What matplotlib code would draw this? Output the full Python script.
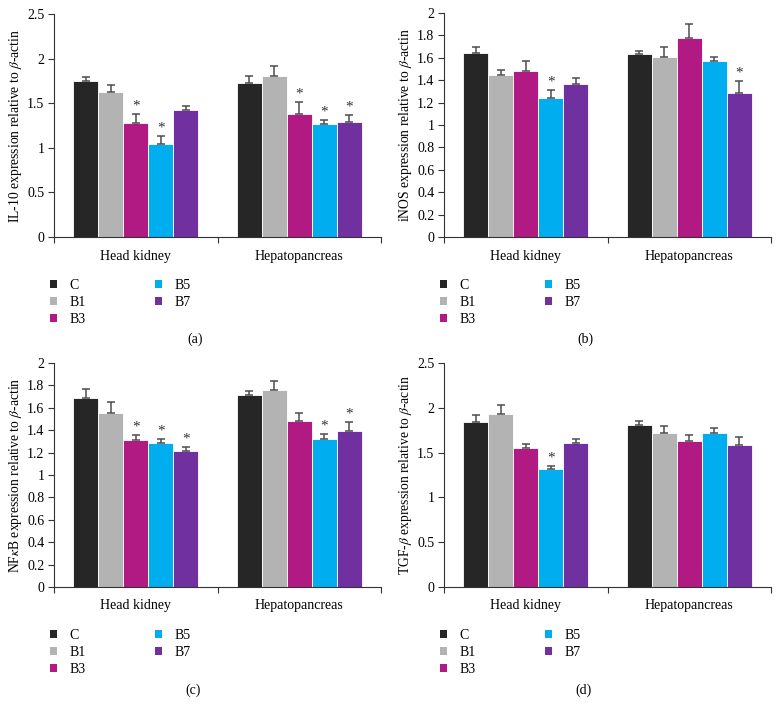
import matplotlib
matplotlib.use("Agg")
import matplotlib.pyplot as plt
from matplotlib.patches import Patch
from matplotlib.ticker import FuncFormatter
import numpy as np

plt.rcParams['font.family'] = ['Liberation Serif', 'DejaVu Serif']
plt.rcParams['mathtext.fontset'] = 'stix'

tissues = ["Head kidney", "Hepatopancreas"]
groups = ["C", "B1", "B3", "B5", "B7"]
colors = ["#262626", "#b3b3b3", "#b01a82", "#00aeef", "#7030a0"]

# IL-10
il10_hk = [1.75, 1.63, 1.28, 1.04, 1.42]
il10_hk_err = [0.04, 0.07, 0.10, 0.09, 0.05]
il10_hp = [1.73, 1.81, 1.38, 1.27, 1.29]
il10_hp_err = [0.07, 0.11, 0.13, 0.04, 0.08]
il10_sig_hk = [False, False, True, True, False]
il10_sig_hp = [False, False, True, True, True]

# iNOS
inos_hk = [1.64, 1.45, 1.48, 1.24, 1.37]
inos_hk_err = [0.06, 0.04, 0.09, 0.07, 0.05]
inos_hp = [1.63, 1.61, 1.78, 1.57, 1.29]
inos_hp_err = [0.03, 0.09, 0.12, 0.04, 0.10]
inos_sig_hk = [False, False, False, True, False]
inos_sig_hp = [False, False, False, False, True]

# NFkB
nfkb_hk = [1.69, 1.55, 1.31, 1.29, 1.21]
nfkb_hk_err = [0.08, 0.10, 0.05, 0.03, 0.04]
nfkb_hp = [1.71, 1.76, 1.48, 1.32, 1.39]
nfkb_hp_err = [0.04, 0.08, 0.07, 0.05, 0.08]
nfkb_sig_hk = [False, False, True, True, True]
nfkb_sig_hp = [False, False, False, True, True]

# TGF-beta
tgfb_hk = [1.84, 1.93, 1.55, 1.32, 1.61]
tgfb_hk_err = [0.08, 0.10, 0.05, 0.03, 0.04]
tgfb_hp = [1.81, 1.72, 1.63, 1.72, 1.59]
tgfb_hp_err = [0.04, 0.08, 0.07, 0.05, 0.08]
tgfb_sig_hk = [False, False, False, True, False]
tgfb_sig_hp = [False, False, False, False, False]

panels = [
    dict(hk=il10_hk, hke=il10_hk_err, hp=il10_hp, hpe=il10_hp_err, shk=il10_sig_hk, shp=il10_sig_hp,
         ylabel=r"IL-10 expression relative to $\mathit{\beta}$-actin", ymax=2.5, step=0.5, tag="(a)"),
    dict(hk=inos_hk, hke=inos_hk_err, hp=inos_hp, hpe=inos_hp_err, shk=inos_sig_hk, shp=inos_sig_hp,
         ylabel=r"iNOS expression relative to $\mathit{\beta}$-actin", ymax=2.0, step=0.2, tag="(b)"),
    dict(hk=nfkb_hk, hke=nfkb_hk_err, hp=nfkb_hp, hpe=nfkb_hp_err, shk=nfkb_sig_hk, shp=nfkb_sig_hp,
         ylabel=r"NF$\kappa$B expression relative to $\mathit{\beta}$-actin", ymax=2.0, step=0.2, tag="(c)"),
    dict(hk=tgfb_hk, hke=tgfb_hk_err, hp=tgfb_hp, hpe=tgfb_hp_err, shk=tgfb_sig_hk, shp=tgfb_sig_hp,
         ylabel=r"TGF-$\mathit{\beta}$ expression relative to $\mathit{\beta}$-actin", ymax=2.5, step=0.5, tag="(d)"),
]

W, H = 780, 716
fig = plt.figure(figsize=(W / 100, H / 100), dpi=100)

# pixel layout: (left, top, right, bottom)
boxes = [
    (54, 14, 381, 237),
    (444, 13, 771, 237),
    (54, 363, 381, 587),
    (444, 363, 771, 587),
]
legend_pos = [(50, 279), (440, 279), (50, 629), (440, 629)]
tag_pos = [(195, 339), (585, 339), (193, 690), (583, 690)]

bw = 0.153
centers = [0.5, 1.5]
offsets = (np.arange(5) - 2) * bw
FS = 10

for i, p in enumerate(panels):
    l, t, r, b = boxes[i]
    ax = fig.add_axes([l / W, 1 - b / H, (r - l) / W, (b - t) / H])
    for j in range(5):
        vals = [p["hk"][j], p["hp"][j]]
        errs = [p["hke"][j], p["hpe"][j]]
        xs = [centers[0] + offsets[j], centers[1] + offsets[j]]
        ax.bar(xs, vals, width=bw, color=colors[j], edgecolor="white", linewidth=0.6, zorder=2)
        ax.errorbar(xs, vals, yerr=[[0, 0], errs], fmt="none", ecolor="#4d4d4d",
                    elinewidth=1.1, capsize=3.2, capthick=1.1, zorder=3)
        sigs = [p["shk"][j], p["shp"][j]]
        for x, v, e, s in zip(xs, vals, errs, sigs):
            if s:
                ax.text(x, v + e + p["ymax"] * 0.006, "*", ha="center", va="bottom",
                        fontsize=11, color="#333333")
    ax.set_xlim(0, 2)
    ax.set_ylim(0, p["ymax"])
    ax.set_yticks(np.arange(0, p["ymax"] + 1e-9, p["step"]))
    ax.yaxis.set_major_formatter(FuncFormatter(lambda v, pos: f"{round(v, 2):g}"))
    ax.set_xticks([0, 1, 2])
    ax.set_xticklabels(["", "", ""])
    ax.set_xticks(centers, minor=True)
    ax.set_xticklabels(tissues, minor=True)
    ax.tick_params(axis="x", which="minor", length=0, pad=9, labelsize=FS)
    ax.tick_params(axis="x", which="major", length=4, direction="out", width=0.8, color="#333333")
    ax.tick_params(axis="y", length=4, direction="out", width=0.8, labelsize=FS, color="#333333", pad=3)
    for s in ["top", "right"]:
        ax.spines[s].set_visible(False)
    for s in ["left", "bottom"]:
        ax.spines[s].set_linewidth(0.8)
        ax.spines[s].set_color("#333333")
    ax.set_ylabel(p["ylabel"], fontsize=9.8, labelpad=2)

    handles = [Patch(facecolor=c, edgecolor="none", label=g) for c, g in zip(colors, groups)]
    lx, ly = legend_pos[i]
    fig.legend(handles=handles, loc="upper left", bbox_to_anchor=(lx / W, 1 - ly / H),
               ncol=2, frameon=False, fontsize=FS, handlelength=0.5, handleheight=0.5,
               handletextpad=0.9, columnspacing=5.0, labelspacing=0.3, borderpad=0, borderaxespad=0)
    tx, ty = tag_pos[i]
    fig.text(tx / W, 1 - ty / H, p["tag"], ha="center", va="center", fontsize=FS)

fig.savefig("out.png", dpi=100)
